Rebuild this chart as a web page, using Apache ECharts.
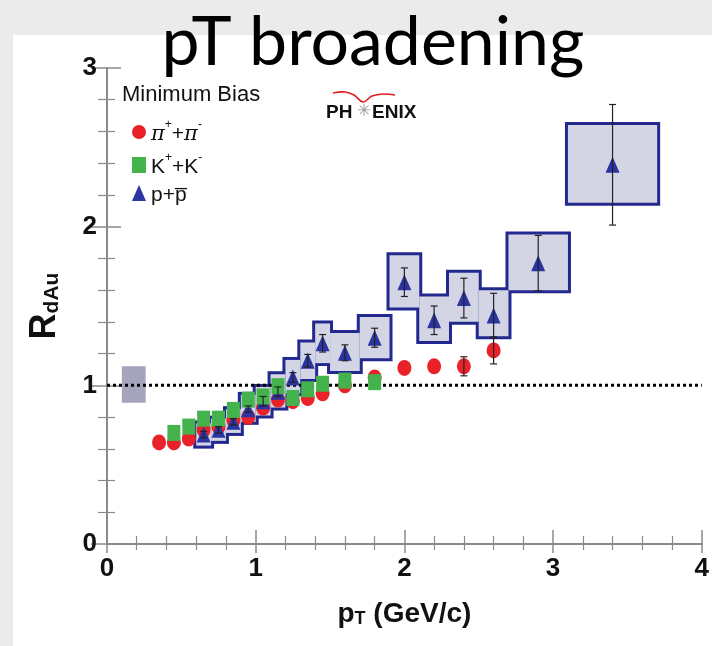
<!DOCTYPE html>
<html>
<head>
<meta charset="utf-8">
<script src="https://cdn.jsdelivr.net/npm/echarts@6/dist/echarts.min.js"></script>
<style>
html,body{margin:0;padding:0;background:#ebebeb;}
#chart{width:712px;height:646px;}
</style>
</head>
<body>
<div id="chart"></div>
<script>
// ---- data ----
var piX = [0.35,0.45,0.55,0.65,0.75,0.85,0.95,1.05,1.15,1.25,1.35,1.45,1.6,1.8,2.0,2.2,2.4,2.6];
var piY = [0.64,0.64,0.665,0.72,0.74,0.78,0.80,0.86,0.91,0.90,0.92,0.95,1.00,1.05,1.11,1.12,1.12,1.22];
var piErr = [0,0,0,0,0,0,0,0,0,0,0,0,0,0,0,0,0.06,0.085];

var kX = [0.45,0.55,0.65,0.75,0.85,0.95,1.05,1.15,1.25,1.35,1.45,1.6,1.8];
var kY = [0.70,0.74,0.79,0.79,0.845,0.91,0.93,0.995,0.92,0.975,1.01,1.03,1.02];

var pX = [0.65,0.75,0.85,0.95,1.05,1.15,1.25,1.35,1.45,1.6,1.8,2.0,2.2,2.4,2.6,2.9,3.4];
var pY = [0.69,0.72,0.77,0.85,0.90,0.96,1.05,1.155,1.265,1.205,1.30,1.65,1.41,1.55,1.44,1.77,2.39];
var pErr = [0.02,0.02,0.02,0.02,0.03,0.03,0.03,0.04,0.055,0.05,0.06,0.09,0.09,0.125,0.14,0.175,0.38];
var pBinLo = [0.60,0.70,0.80,0.90,1.00,1.10,1.20,1.30,1.40,1.50,1.70,1.90,2.10,2.30,2.50,2.70,3.10];
var pBinHi = [0.70,0.80,0.90,1.00,1.10,1.20,1.30,1.40,1.50,1.70,1.90,2.10,2.30,2.50,2.70,3.10,3.70];
var pSysLo = [0.62,0.65,0.70,0.77,0.81,0.86,0.95,1.04,1.14,1.09,1.17,1.49,1.28,1.40,1.31,1.60,2.15];
var pSysHi = [0.76,0.79,0.85,0.94,0.99,1.07,1.16,1.27,1.39,1.33,1.43,1.82,1.56,1.71,1.60,1.95,2.64];

var normBox = [0.10,0.26,0.89,1.12]; // xlo,xhi,ylo,yhi
var refLine = 1;

var xTicks = [0,1,2,3,4];
var yTicks = [0,1,2,3];

// ---- build ----
function zip(a,b){ return a.map(function(v,i){return [v,b[i]];}); }
var pBoxes = pX.map(function(_,i){ return [pBinLo[i],pBinHi[i],pSysLo[i],pSysHi[i]]; });
var pErrData = pX.map(function(x,i){ return [x,pY[i]-pErr[i],pY[i]+pErr[i]]; });
var piErrData = piX.map(function(x,i){ return [x,piY[i]-piErr[i],piY[i]+piErr[i]]; }).filter(function(d,i){return piErr[i]>0;});

function boxRender(expand, fill){
  return function(params, api){
    var a = api.coord([api.value(0), api.value(3)]);
    var b = api.coord([api.value(1), api.value(2)]);
    return {type:'rect', shape:{x:a[0]-expand, y:a[1]-expand, width:b[0]-a[0]+2*expand, height:b[1]-a[1]+2*expand}, style:{fill:fill}};
  };
}
function errRender(params, api){
  var x = api.value(0);
  var lo = api.coord([x, api.value(1)]);
  var hi = api.coord([x, api.value(2)]);
  var c = 3.5;
  var st = {stroke:'#222', lineWidth:1.2};
  return {type:'group', children:[
    {type:'line', shape:{x1:lo[0],y1:lo[1],x2:hi[0],y2:hi[1]}, style:st},
    {type:'line', shape:{x1:lo[0]-c,y1:lo[1],x2:lo[0]+c,y2:lo[1]}, style:st},
    {type:'line', shape:{x1:hi[0]-c,y1:hi[1],x2:hi[0]+c,y2:hi[1]}, style:st}
  ]};
}

var chart = echarts.init(document.getElementById('chart'), null, {renderer:'canvas'});
var tickFont = {fontFamily:'Liberation Sans Narrow, Liberation Sans, Arial', fontWeight:'bold', fontSize:26, color:'#111'};
var axisLine = {show:true, lineStyle:{color:'#8a8a8a', width:2}};

var option = {
  backgroundColor:'#ebebeb',
  animation:false,
  grid:{left:107, right:5, top:68, bottom:102, containLabel:false},
  xAxis:[{
    type:'value', min:0, max:4, interval:1, position:'bottom',
    axisLine:axisLine,
    axisTick:{show:true, inside:true, length:14, lineStyle:{color:'#8a8a8a', width:1.5}},
    minorTick:{show:true, splitNumber:5, length:8, lineStyle:{color:'#8a8a8a', width:1.2}},
    splitLine:{show:false},
    axisLabel:Object.assign({margin:12, formatter:function(v){return xTicks.indexOf(v)>=0?String(v):'';}}, tickFont),
    name:'{p|p}{s|T}{n| (GeV/c)}', nameLocation:'middle', nameGap:50,
    nameTextStyle:{rich:{
      p:{fontFamily:'Liberation Sans Narrow, Liberation Sans',fontWeight:'bold',fontSize:28,color:'#111',verticalAlign:'bottom',lineHeight:34},
      s:{fontFamily:'Liberation Sans Narrow, Liberation Sans',fontWeight:'bold',fontSize:18,color:'#111',verticalAlign:'bottom',lineHeight:26},
      n:{fontFamily:'Liberation Sans Narrow, Liberation Sans',fontWeight:'bold',fontSize:28,color:'#111',verticalAlign:'bottom',lineHeight:34}
    }}
  },{
    type:'value', min:0, max:4, interval:1, position:'top',
    axisLine:axisLine,
    axisTick:{show:true, inside:true, length:9, lineStyle:{color:'#8a8a8a', width:1.5}},
    minorTick:{show:true, splitNumber:5, length:6, lineStyle:{color:'#8a8a8a', width:1.2}},
    splitLine:{show:false}, axisLabel:{show:false}
  }],
  yAxis:[{
    type:'value', min:0, max:3, interval:1, position:'left',
    axisLine:axisLine,
    axisTick:{show:true, inside:true, length:14, lineStyle:{color:'#8a8a8a', width:1.5}},
    minorTick:{show:true, splitNumber:5, length:8, lineStyle:{color:'#8a8a8a', width:1.2}},
    splitLine:{show:false},
    axisLabel:Object.assign({margin:10, formatter:function(v){return yTicks.indexOf(v)>=0?String(v):'';}}, tickFont),
    name:'{r|R}{s|dAu}', nameLocation:'middle', nameGap:44, nameRotate:90,
    nameTextStyle:{rich:{
      r:{fontFamily:'Liberation Sans',fontWeight:'bold',fontSize:36,color:'#111',verticalAlign:'bottom',lineHeight:40},
      s:{fontFamily:'Liberation Sans',fontWeight:'bold',fontSize:21,color:'#111',verticalAlign:'bottom',lineHeight:30}
    }}
  },{
    type:'value', min:0, max:3, interval:1, position:'right',
    axisLine:axisLine,
    axisTick:{show:true, inside:true, length:16, lineStyle:{color:'#8a8a8a', width:1.5}},
    minorTick:{show:true, splitNumber:5, length:9, lineStyle:{color:'#8a8a8a', width:1.2}},
    splitLine:{show:false}, axisLabel:{show:false}
  }],
  legend:{
    show:true, orient:'vertical', left:127, top:114, itemGap:7,
    itemWidth:14, itemHeight:16,
    data:['pi','K','p'],
    formatter:function(n){
      if(n==='pi') return '{g|π}{u|+}{t|+}{g|π}{u|-}';
      if(n==='K') return '{t|K}{u|+}{t|+K}{u|-}';
      return '{t|p+p\u0305}';
    },
    textStyle:{rich:{
      g:{fontFamily:'DejaVu Serif',fontStyle:'italic',fontSize:21,color:'#111',verticalAlign:'bottom',lineHeight:26},
      t:{fontFamily:'Liberation Sans',fontSize:21,color:'#111',verticalAlign:'bottom',lineHeight:26},
      u:{fontFamily:'Liberation Sans',fontSize:12,color:'#111',verticalAlign:'top',lineHeight:26}
    }}
  },
  graphic:[
    {type:'rect', z:-10, shape:{x:13,y:35,width:699,height:611}, style:{fill:'#ffffff'}, silent:true},
    {type:'text', z:100, x:122, y:95, style:{text:'Minimum Bias', fontFamily:'Liberation Sans', fontSize:22, fill:'#111', verticalAlign:'middle'}},
    {type:'text', z:100, x:326, y:113, style:{text:'PH', fontFamily:'Liberation Sans', fontWeight:'bold', fontSize:19, fill:'#111', verticalAlign:'middle'}},
    {type:'text', z:100, x:364, y:112, style:{text:'\u2733', fontFamily:'DejaVu Sans', fontSize:17, fill:'#999', align:'center', verticalAlign:'middle'}},
    {type:'text', z:100, x:372, y:113, style:{text:'ENIX', fontFamily:'Liberation Sans', fontWeight:'bold', fontSize:19, fill:'#111', verticalAlign:'middle'}},
    {type:'polyline', z:100, shape:{points:[[333,93],[345,92],[354,95],[363,102],[372,96],[383,94],[395,95]], smooth:0.4}, style:{stroke:'#e02020', lineWidth:1.6, fill:null}},
    {type:'text', z:200, x:373, y:43, style:{text:'pT broadening', fontFamily:'Lato', fontSize:68, fill:'#000', align:'center', verticalAlign:'middle'}}
  ],
  series:[
    {name:'norm', type:'custom', xAxisIndex:0, yAxisIndex:0, z:1, renderItem:boxRender(0,'#a4a5bc'), data:[normBox], silent:true},
    {name:'pBoxOutline', type:'custom', z:2, renderItem:boxRender(3,'#23288f'), data:pBoxes, silent:true},
    {name:'pBoxFill', type:'custom', z:3, renderItem:boxRender(0,'#d3d5e4'), data:pBoxes, silent:true},
    {name:'ref', type:'line', z:4, symbol:'none', data:[[0,refLine],[4,refLine]], lineStyle:{color:'#000', width:3, type:[3,3]}, silent:true},
    {name:'pi', type:'scatter', z:5, symbol:'circle', symbolSize:[14,16], itemStyle:{color:'#e82228', opacity:1}, data:zip(piX,piY)},
    {name:'p', type:'scatter', z:6, symbol:'triangle', symbolSize:[14,16], itemStyle:{color:'#2b34a0', opacity:1}, data:zip(pX,pY)},
    {name:'K', type:'scatter', z:7, symbol:'rect', symbolSize:[13,16], itemStyle:{color:'#45b34d', opacity:1}, data:zip(kX,kY)},
    {name:'pErr', type:'custom', z:8, renderItem:errRender, data:pErrData, silent:true},
    {name:'piErr', type:'custom', z:8, renderItem:errRender, data:piErrData, silent:true}
  ]
};
chart.setOption(option);
</script>
</body>
</html>
